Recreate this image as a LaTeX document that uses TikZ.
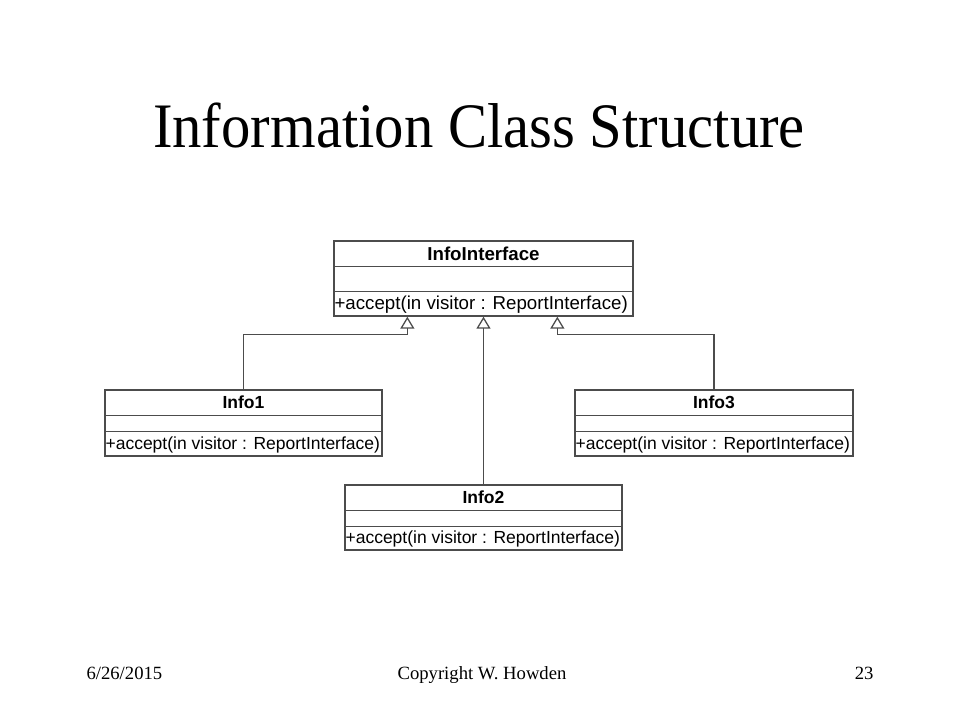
\documentclass[tikz,border=0pt]{standalone}
\usepackage{fontspec}
\setmainfont{Liberation Serif}
\setsansfont{Liberation Sans}
\usetikzlibrary{arrows.meta, calc, positioning}
\newcommand{\titlefont}{\fontsize{58.67}{64}\selectfont}
\newcommand{\footfont}{\fontsize{18.67}{21}\selectfont}
\newcommand{\bigsans}{\sffamily\fontsize{18.7}{21}\selectfont}
\newcommand{\smallsans}{\sffamily\fontsize{17.5}{20}\selectfont}

\begin{document}
\begin{tikzpicture}[x=1pt, y=1pt, >=Stealth,
    classbox/.style={draw=black!70, line width=1.3pt, inner sep=0pt},
    divider/.style={draw=black!70, line width=1.3pt},
    implements/.style={draw=black!70, line width=1.3pt, -{Triangle[open, length=12pt, width=14pt]}},
    cname/.style={font=\smallsans\bfseries, inner sep=0pt},
    method/.style={font=\smallsans, inner sep=1pt, anchor=west}]
    \useasboundingbox (0,0) rectangle (960,-720);
    \node[font=\titlefont, anchor=base, yscale=1.08, transform shape] (title) at (479,-147) {Information Class Structure};
    \node[classbox, minimum width=299pt, minimum height=75pt] (iface) at (483.5,-278.5) {};
    \node[classbox, minimum width=277pt, minimum height=66pt] (info1) at (243.5,-423) {};
    \node[classbox, minimum width=277pt, minimum height=65pt] (info2) at (483.5,-517.5) {};
    \node[classbox, minimum width=278pt, minimum height=66pt] (info3) at (714,-423) {};
    \draw[divider] ($(iface.north west)+(0,-26)$) -- ($(iface.north east)+(0,-26)$);
    \draw[divider] ($(iface.north west)+(0,-51)$) -- ($(iface.north east)+(0,-51)$);
    \node[cname, font=\bigsans\bfseries] (iface-name) at ($(iface.north)+(0,-13)$) {InfoInterface};
    \node[method, font=\bigsans] (iface-op) at ($(iface.south west)+(0,12)$) {+accept(in visitor : ReportInterface)};
    \foreach \c/\t in {info1/Info1, info2/Info2, info3/Info3} {
        \draw[divider] ($(\c.north west)+(0,-26)$) -- ($(\c.north east)+(0,-26)$);
        \draw[divider] ($(\c.north west)+(0,-42)$) -- ($(\c.north east)+(0,-42)$);
        \node[cname] (\c-name) at ($(\c.north)+(0,-13)$) {\t};
        \node[method] (\c-op) at ($(\c.south west)+(0,12)$) {+accept(in visitor : ReportInterface)};
    }
    \coordinate (in1) at ($(iface.south west)+(74,0)$);
    \coordinate (in3) at ($(iface.south west)+(224,0)$);
    \draw[implements] (info1.north) -- ++(0,55) -| (in1);
    \draw[implements] (info2.north) -- (iface.south);
    \draw[implements] (info3.north) -- ++(0,55) -| (in3);
    \node[font=\footfont, anchor=base west] (date) at (83,-679) {6/26/2015};
    \node[font=\footfont, anchor=base] (copyright) at (482,-679) {Copyright W. Howden};
    \node[font=\footfont, anchor=base east] (page) at (877,-679) {23};
\end{tikzpicture}
\end{document}
